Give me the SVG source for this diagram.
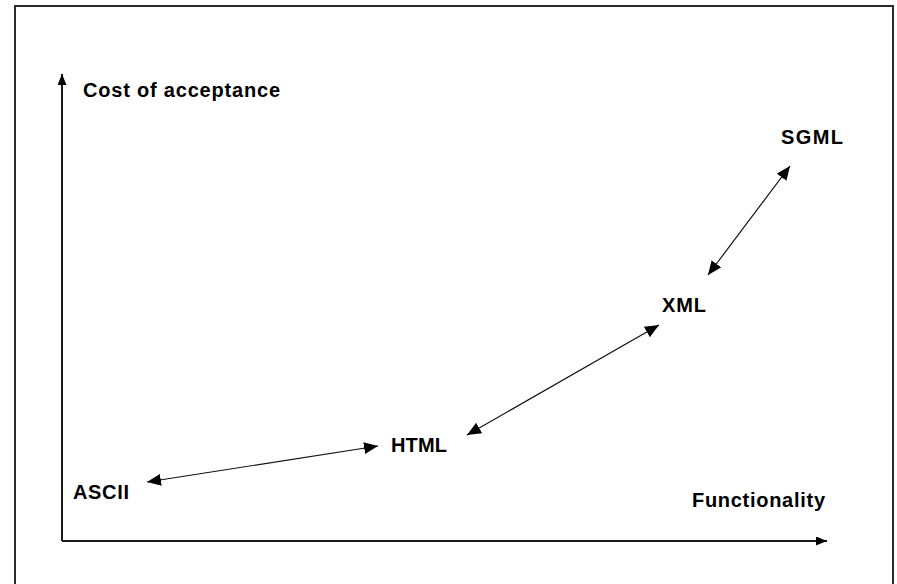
<svg xmlns="http://www.w3.org/2000/svg" width="897" height="584" viewBox="0 0 897 584">
  <style>
    .lbl { font-family: "Liberation Sans", Arial, sans-serif; font-weight: bold; font-size: 20px; fill: #000; }
    .axis { stroke: #1a1a1a; stroke-width: 2; fill: none; }
    .conn { stroke: #111; stroke-width: 1.2; fill: none; }
  </style>
  <defs>
    <marker id="ah" markerUnits="userSpaceOnUse" markerWidth="15" markerHeight="13" refX="14" refY="6" orient="auto-start-reverse">
      <path d="M0,0 L14,6 L0,12 Z" fill="#000"/>
    </marker>
    <marker id="axh" markerUnits="userSpaceOnUse" markerWidth="12" markerHeight="10" refX="11" refY="4.5" orient="auto">
      <path d="M0,0 L11,4.5 L0,9 Z" fill="#000"/>
    </marker>
  </defs>

  <rect x="0" y="0" width="897" height="584" fill="#fff"/>
  <path d="M15,600 L15,6 L893,6 L893,600" fill="none" stroke="#2a2a2a" stroke-width="2"/>

  <g id="axes">
    <line class="axis" x1="62" y1="541" x2="62" y2="74" marker-end="url(#axh)"/>
    <line class="axis" x1="62" y1="541" x2="827" y2="541" marker-end="url(#axh)"/>
  </g>

  <g id="connectors">
    <line class="conn" x1="147" y1="482" x2="378" y2="446" marker-start="url(#ah)" marker-end="url(#ah)"/>
    <line class="conn" x1="467" y1="435" x2="659" y2="325" marker-start="url(#ah)" marker-end="url(#ah)"/>
    <line class="conn" x1="708" y1="275" x2="790" y2="166" marker-start="url(#ah)" marker-end="url(#ah)"/>
  </g>

  <g id="y-label"><text class="lbl" x="83" y="97" textLength="197" lengthAdjust="spacing">Cost of acceptance</text></g>
  <g id="x-label"><text class="lbl" x="692" y="507" textLength="133" lengthAdjust="spacing">Functionality</text></g>
  <g id="ascii"><text class="lbl" x="73" y="499" textLength="56" lengthAdjust="spacing">ASCII</text></g>
  <g id="html"><text class="lbl" x="391" y="452" textLength="56" lengthAdjust="spacing">HTML</text></g>
  <g id="xml"><text class="lbl" x="662" y="312" textLength="44" lengthAdjust="spacing">XML</text></g>
  <g id="sgml"><text class="lbl" x="781" y="144" textLength="62" lengthAdjust="spacing">SGML</text></g>
</svg>
